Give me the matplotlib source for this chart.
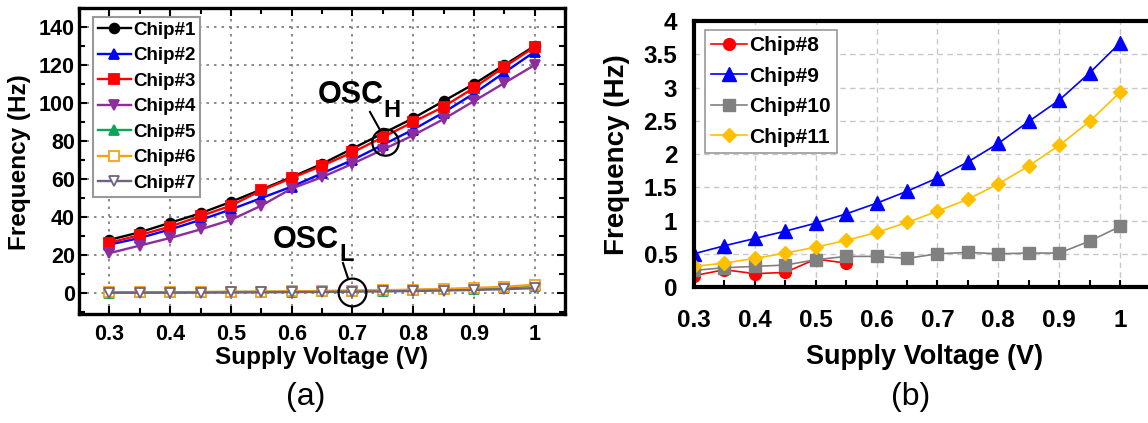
import matplotlib
matplotlib.use('Agg')
import matplotlib.pyplot as plt
from matplotlib.ticker import MultipleLocator

plt.rcParams['font.family'] = ['Liberation Sans', 'DejaVu Sans']

# ---------------- data ----------------
voltage = [0.3, 0.35, 0.4, 0.45, 0.5, 0.55, 0.6, 0.65, 0.7, 0.75, 0.8, 0.85, 0.9, 0.95, 1.0]

chip1 = [28, 32, 37, 42, 48, 54.5, 61, 68, 76, 84, 92, 101, 110, 120, 130]
chip2 = [25.5, 29, 33.5, 38.5, 44, 50, 56, 63, 70, 78, 86, 95, 105, 116, 127]
chip3 = [26.5, 30.5, 35, 40.5, 46, 54, 60.5, 67, 74, 82, 90, 98, 108, 119, 129.5]
chip4 = [21, 25, 29, 33.5, 38.5, 46, 55, 61, 68, 75.5, 83, 91.5, 101, 110.5, 120]
chip5 = [0.3, 0.35, 0.4, 0.5, 0.6, 0.7, 0.8, 1.0, 1.15, 1.35, 1.6, 1.9, 2.3, 2.9, 3.9]
chip6 = [0.35, 0.4, 0.45, 0.55, 0.65, 0.75, 0.9, 1.1, 1.3, 1.5, 1.8, 2.2, 2.7, 3.3, 4.4]
chip7 = [0.2, 0.22, 0.25, 0.3, 0.35, 0.4, 0.5, 0.6, 0.75, 0.9, 1.1, 1.35, 1.65, 2.05, 2.6]

voltage8 = [0.3, 0.35, 0.4, 0.45, 0.5, 0.55]
chip8 = [0.17, 0.26, 0.20, 0.22, 0.42, 0.36]
chip9 = [0.50, 0.62, 0.73, 0.84, 0.96, 1.10, 1.26, 1.44, 1.64, 1.88, 2.16, 2.49, 2.81, 3.22, 3.67]
chip10 = [0.25, 0.29, 0.31, 0.33, 0.41, 0.46, 0.46, 0.43, 0.50, 0.52, 0.50, 0.51, 0.51, 0.69, 0.91]
chip11 = [0.31, 0.36, 0.43, 0.51, 0.60, 0.70, 0.82, 0.97, 1.14, 1.32, 1.55, 1.82, 2.13, 2.49, 2.93]

left_series = [
    ('Chip#1', chip1, 'black', 'o', 'black'),
    ('Chip#2', chip2, '#0000ff', '^', '#0000ff'),
    ('Chip#3', chip3, '#ff0000', 's', '#ff0000'),
    ('Chip#4', chip4, '#8e2c9e', 'v', '#8e2c9e'),
    ('Chip#5', chip5, '#0aa556', '^', '#0aa556'),
    ('Chip#6', chip6, '#f5a218', 's', 'white'),
    ('Chip#7', chip7, '#6f6380', 'v', 'white'),
]

fig = plt.figure(figsize=(11.48, 4.23), dpi=100)

# ---------------- panel (a) ----------------
ax1 = fig.add_axes([79/1148, 1-314/423, (565-79)/1148, (314-8)/423])
for name, vals, col, mk, mfc in left_series:
    ax1.plot(voltage, vals, color=col, marker=mk, markersize=7, mfc=mfc,
             mec=col, mew=1.3, lw=1.7, label=name)

ax1.set_xlim(0.25, 1.05)
ax1.set_ylim(-11, 150)
ax1.xaxis.set_major_locator(MultipleLocator(0.1))
ax1.xaxis.set_minor_locator(MultipleLocator(0.05))
ax1.yaxis.set_major_locator(MultipleLocator(20))
ax1.yaxis.set_minor_locator(MultipleLocator(10))
ax1.set_xticks([0.3, 0.4, 0.5, 0.6, 0.7, 0.8, 0.9, 1.0])
ax1.set_xticklabels(['0.3', '0.4', '0.5', '0.6', '0.7', '0.8', '0.9', '1'])
ax1.grid(True, which='major', ls=(0, (1.5, 3)), color='#777777', lw=1.2)
ax1.tick_params(which='both', direction='in', top=True, right=True, width=1.5)
ax1.tick_params(which='major', length=6, labelsize=15.5, pad=3)
ax1.tick_params(which='minor', length=4)
ax1.tick_params(axis='x', pad=7)
for lab in ax1.get_xticklabels() + ax1.get_yticklabels():
    lab.set_fontweight('bold')
for sp in ax1.spines.values():
    sp.set_linewidth(2.4)
ax1.set_xlabel('Supply Voltage (V)', fontsize=17.5, fontweight='bold')
ax1.set_ylabel('Frequency (Hz)', fontsize=17.5, fontweight='bold')
ax1.xaxis.set_label_coords(0.5, -0.105)
ax1.yaxis.set_label_coords(-0.098, 0.497)

leg1 = ax1.legend(loc='upper left', bbox_to_anchor=(0.029, 0.971), borderaxespad=0,
                  prop={'size': 13.5, 'weight': 'bold'}, handlelength=1.75,
                  handletextpad=0.12, labelspacing=0.45, borderpad=0.25,
                  fancybox=False, framealpha=1, edgecolor='#999999')
leg1.get_frame().set_linewidth(1.5)

# OSC_H annotation
t_h = ax1.text(0.643, 104, 'OSC', fontsize=22, fontweight='bold', ha='left', va='center')
ax1.annotate('H', xy=(1.0, 0.0), xycoords=t_h, fontsize=17, fontweight='heavy',
             ha='left', va='center')
ax1.plot([0.729, 0.7455], [95.3, 85.8], color='black', lw=1.5)
ax1.plot([0.754], [79.5], marker='o', markersize=19, mfc='none', mec='black', mew=1.6)

# OSC_L annotation
t_l = ax1.text(0.569, 28, 'OSC', fontsize=22, fontweight='bold', ha='left', va='center')
ax1.annotate('L', xy=(1.0, 0.0), xycoords=t_l, fontsize=17, fontweight='heavy',
             ha='left', va='center')
ax1.plot([0.6845, 0.6927], [15.8, 7.9], color='black', lw=1.5)
ax1.plot([0.699], [0.5], marker='o', markersize=20, mfc='none', mec='black', mew=1.6)

# ---------------- panel (b) ----------------
ax2 = fig.add_axes([694/1148, 1-287/423, (1150.5-694)/1148, (287-21)/423])
ax2.plot(voltage8, chip8, color='#ff0000', marker='o', markersize=8.5, lw=1.2, label='Chip#8')
ax2.plot(voltage, chip9, color='#0000ff', marker='^', markersize=9.5, lw=1.2, label='Chip#9')
ax2.plot(voltage, chip10, color='#808080', marker='s', markersize=8.5, lw=1.2, label='Chip#10')
ax2.plot(voltage, chip11, color='#ffc000', marker='D', markersize=7, lw=1.2, label='Chip#11')

ax2.set_xlim(0.3, 1.05)
ax2.set_ylim(0, 4)
ax2.set_xticks([0.3, 0.4, 0.5, 0.6, 0.7, 0.8, 0.9, 1.0])
ax2.set_xticklabels(['0.3', '0.4', '0.5', '0.6', '0.7', '0.8', '0.9', '1'])
ax2.xaxis.set_minor_locator(MultipleLocator(0.05))
ax2.set_yticks([0, 0.5, 1, 1.5, 2, 2.5, 3, 3.5, 4])
ax2.set_yticklabels(['0', '0.5', '1', '1.5', '2', '2.5', '3', '3.5', '4'])
ax2.grid(True, which='major', ls=(0, (4, 3)), color='#c8c8c8', lw=1.0)
ax2.tick_params(axis='x', which='both', direction='in', length=5, width=1.5)
ax2.tick_params(axis='x', which='major', labelsize=17.5, pad=16)
ax2.tick_params(axis='y', which='both', length=0, labelsize=17.5, pad=12)
for lab in ax2.get_xticklabels() + ax2.get_yticklabels():
    lab.set_fontweight('bold')
for sp in ax2.spines.values():
    sp.set_linewidth(3)
ax2.set_xlabel('Supply Voltage (V)', fontsize=19.5, fontweight='bold')
ax2.set_ylabel('Frequency (Hz)', fontsize=20, fontweight='bold')
ax2.xaxis.set_label_coords(0.504, -0.215)
ax2.yaxis.set_label_coords(-0.14, 0.496)

leg2 = ax2.legend(loc='upper left', bbox_to_anchor=(0.024, 0.966), borderaxespad=0,
                  prop={'size': 15, 'weight': 'bold'}, handlelength=1.7,
                  handletextpad=0.1, labelspacing=0.55, borderpad=0.3,
                  fancybox=False, framealpha=1, edgecolor='#999999')
leg2.get_frame().set_linewidth(1.2)

# captions
fig.text(306/1148, 1-397/423, '(a)', fontsize=23, ha='center', va='center')
fig.text(911/1148, 1-397/423, '(b)', fontsize=23, ha='center', va='center')

fig.savefig('out.png', dpi=100)
